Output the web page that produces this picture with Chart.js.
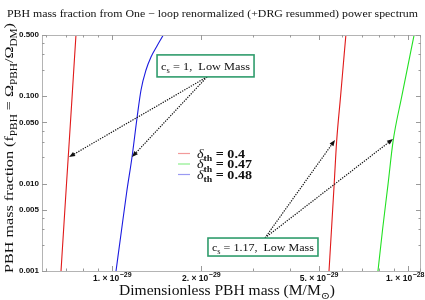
<!DOCTYPE html>
<html>
<head>
<meta charset="utf-8">
<script src="https://cdn.jsdelivr.net/npm/chart.js@4.4.0/dist/chart.umd.min.js"></script>
<style>
  html, body { margin: 0; padding: 0; background: #fff; }
  canvas { display: block; }
</style>
</head>
<body>
<canvas id="pbh" width="425" height="300"></canvas>
<script>
// values: PBH mass (M/Msun) vs f_PBH
const fracGrid = [0.001, 0.003, 0.01, 0.03, 0.1, 0.3, 0.6];
const massRedLow = [6.725e-30, 6.863e-30, 7.019e-30, 7.168e-30, 7.332e-30, 7.482e-30, 7.581e-30];
const massRedHigh = [5.409e-29, 5.515e-29, 5.632e-29, 5.738e-29, 5.919e-29, 6.087e-29, 6.197e-29];
const massGreen = [7.916e-29, 8.207e-29, 8.566e-29, 8.898e-29, 9.530e-29, 1.0172e-28, 1.0600e-28];
const massBlue = [1.0316e-29, 1.0758e-29, 1.1211e-29, 1.1684e-29, 1.2147e-29, 1.2531e-29, 1.3027e-29, 1.3543e-29, 1.4190e-29, 1.4903e-29, 1.5219e-29];
const fracBlue = [0.001, 0.002868, 0.008007, 0.02012, 0.0562, 0.1175, 0.1989, 0.2802, 0.3744, 0.5, 0.570];

const massMin = 5.80e-30, massMax = 1.1064e-28;
const fracMin = 0.001, fracMax = 0.5;
const massTicks = [1e-29, 2e-29, 5e-29, 1e-28];
const massTickMant = ['1. \u00d7 10', '2. \u00d7 10', '5. \u00d7 10', '1. \u00d7 10'];
const massTickExp = ['\u221229', '\u221229', '\u221229', '\u221228'];
const massMinor = [6e-30, 7e-30, 8e-30, 9e-30, 3e-29, 4e-29, 6e-29, 7e-29, 8e-29, 9e-29, 1.1e-28];
const fracTicks = [0.001, 0.005, 0.01, 0.05, 0.1, 0.5];
const fracMinor = [0.002, 0.003, 0.004, 0.02, 0.03, 0.04, 0.2, 0.3, 0.4];

const legendLabels = ['0.4', '0.47', '0.48'];
const legendColors = ['#f29a9a', '#8cee8c', '#9a9af2'];

// annotation anchors (data coordinates)
const noteLow = { text: '1,  Low Mass', at: [2.07e-29, 0.2216], from: [2.094e-29, 0.166], to: [[7.157e-30, 0.0201], [1.1684e-29, 0.0201]] };
const noteHigh = { text: '1.17,  Low Mass', at: [3.236e-29, 0.00188], from: [3.287e-29, 0.00239], to: [[5.667e-29, 0.0315], [8.898e-29, 0.0323]] };

const SERIF = '"Liberation Serif", "DejaVu Serif", serif';
const SANS = '"Liberation Sans", Arial, sans-serif';

function pts(xs, ys) {
	return xs.map((x, i) => ({ x: x, y: ys[i] }));
}

function setFont(ctx, p, size, family) {
	let s = p.sub ? size * 0.7 : size;
	ctx.font = (p.it ? 'italic ' : '') + (p.b ? 'bold ' : '') + s.toFixed(2) + 'px ' + family;
}

function richWidth(ctx, parts, size, family) {
	let w = 0;
	parts.forEach(p => { setFont(ctx, p, size, family); w += ctx.measureText(p.t).width; });
	return w;
}

// draws parts centred (or left aligned) at x, optionally squeezed to a width
function drawRich(ctx, parts, x, baseline, size, family, targetW, left) {
	let w = richWidth(ctx, parts, size, family);
	let k = targetW ? targetW / w : 1;
	ctx.save();
	ctx.translate(x, baseline);
	ctx.scale(k, 1);
	ctx.textAlign = 'left';
	ctx.textBaseline = 'alphabetic';
	let cx = left ? 0 : -w / 2;
	parts.forEach(p => {
		setFont(ctx, p, size, family);
		ctx.fillText(p.t, cx, p.sub ? size * 0.28 : 0);
		cx += ctx.measureText(p.t).width;
	});
	ctx.restore();
}

function arrow(ctx, x0, y0, x1, y1) {
	let a = Math.atan2(y1 - y0, x1 - x0);
	let L = 6, W = 2.4;
	ctx.save();
	ctx.strokeStyle = '#111';
	ctx.fillStyle = '#111';
	ctx.lineWidth = 1.2;
	ctx.setLineDash([1.3, 1.2]);
	ctx.beginPath();
	ctx.moveTo(x0, y0);
	ctx.lineTo(x1 - 3 * Math.cos(a), y1 - 3 * Math.sin(a));
	ctx.stroke();
	ctx.setLineDash([]);
	ctx.beginPath();
	ctx.moveTo(x1, y1);
	ctx.lineTo(x1 - L * Math.cos(a) + W * Math.sin(a), y1 - L * Math.sin(a) - W * Math.cos(a));
	ctx.lineTo(x1 - L * Math.cos(a) - W * Math.sin(a), y1 - L * Math.sin(a) + W * Math.cos(a));
	ctx.closePath();
	ctx.fill();
	ctx.restore();
}

const decor = {
	id: 'decor',
	afterDatasetsDraw(chart) {
		const ctx = chart.ctx;
		const a = chart.chartArea;
		const xs = chart.scales.x, ys = chart.scales.y;

		// frame with inward ticks
		ctx.save();
		ctx.strokeStyle = '#b4b4b4';
		ctx.lineWidth = 1;
		ctx.strokeRect(a.left + 0.5, a.top + 0.5, a.right - a.left - 1, a.bottom - a.top);
		ctx.strokeStyle = '#9a9a9a';
		ctx.beginPath();
		const tickX = (v, len) => {
			let p = Math.round(xs.getPixelForValue(v)) + 0.5;
			ctx.moveTo(p, a.bottom); ctx.lineTo(p, a.bottom - len);
			ctx.moveTo(p, a.top); ctx.lineTo(p, a.top + len);
		};
		const tickY = (v, len) => {
			let p = Math.round(ys.getPixelForValue(v)) + 0.5;
			ctx.moveTo(a.left, p); ctx.lineTo(a.left + len, p);
			ctx.moveTo(a.right, p); ctx.lineTo(a.right - len, p);
		};
		massTicks.forEach(v => tickX(v, 5));
		massMinor.forEach(v => tickX(v, 2.5));
		fracTicks.forEach(v => tickY(v, 5));
		fracMinor.forEach(v => tickY(v, 2.5));
		ctx.stroke();
		ctx.restore();

		// x tick labels with real superscripts, placed by the x scale
		ctx.save();
		ctx.fillStyle = '#111';
		ctx.textBaseline = 'alphabetic';
		ctx.textAlign = 'left';
		xs.ticks.forEach(t => {
			let i = massTicks.indexOf(t.value);
			if (i < 0) return;
			let px = xs.getPixelForValue(t.value);
			ctx.font = 'bold 8.5px ' + SANS;
			let w1 = ctx.measureText(massTickMant[i]).width;
			ctx.font = 'bold 7px ' + SANS;
			let w2 = ctx.measureText(massTickExp[i]).width;
			let x0 = Math.min(px - (w1 + w2) / 2, 424 - w1 - w2);
			ctx.font = 'bold 8.5px ' + SANS;
			ctx.fillText(massTickMant[i], x0, a.bottom + 10);
			ctx.font = 'bold 7px ' + SANS;
			ctx.fillText(massTickExp[i], x0 + w1 + 0.5, a.bottom + 5.5);
		});
		ctx.restore();

		// arrows and boxed notes
		[[noteLow, 97, 22], [noteHigh, 110, 18]].forEach(([n, bw, bh]) => {
			let fx = xs.getPixelForValue(n.from[0]), fy = ys.getPixelForValue(n.from[1]);
			n.to.forEach(t => arrow(ctx, fx, fy, xs.getPixelForValue(t[0]), ys.getPixelForValue(t[1])));
			let cx = xs.getPixelForValue(n.at[0]), cy = ys.getPixelForValue(n.at[1]);
			ctx.save();
			ctx.fillStyle = '#fff';
			ctx.fillRect(cx - bw / 2, cy - bh / 2, bw, bh);
			ctx.strokeStyle = '#2f9c6c';
			ctx.lineWidth = 1.6;
			ctx.strokeRect(cx - bw / 2, cy - bh / 2, bw, bh);
			ctx.fillStyle = '#111';
			drawRich(ctx, [{ t: 'c' }, { t: 's', sub: true }, { t: ' = ' + n.text }], cx, cy + 3.8, 11, SERIF, bw - 8);
			ctx.restore();
		});

		// legend
		ctx.save();
		const legParts = lab => [{ t: '\u03b4', it: true }, { t: 'th', sub: true, b: true }, { t: ' = ' + lab, b: true }];
		let kLeg = 55 / richWidth(ctx, legParts('0.48'), 12.5, SERIF);
		legendLabels.forEach((lab, i) => {
			let y = 153.5 + i * 10.5;
			ctx.strokeStyle = legendColors[i];
			ctx.lineWidth = 1.2;
			ctx.beginPath();
			ctx.moveTo(178, y); ctx.lineTo(190, y);
			ctx.stroke();
			ctx.fillStyle = '#111';
			let parts = legParts(lab);
			drawRich(ctx, parts, 197, y + 4, 12.5, SERIF, richWidth(ctx, parts, 12.5, SERIF) * kLeg, true);
		});
		ctx.restore();
	},
	afterDraw(chart) {
		const ctx = chart.ctx;
		ctx.save();
		ctx.fillStyle = '#111';
		drawRich(ctx, [{ t: 'PBH mass fraction from One \u2212 loop renormalized (+DRG resummed) power spectrum' }], 212.5, 17, 11, SERIF, 411);
		drawRich(ctx, [{ t: 'Dimensionless PBH mass (M/M' }, { t: '\u2299', sub: true }, { t: ')' }], 227, 295, 14.5, SERIF, 216);
		ctx.translate(13, 148);
		ctx.rotate(-Math.PI / 2);
		drawRich(ctx, [
			{ t: 'PBH mass fraction (f' }, { t: 'PBH', sub: true }, { t: ' = \u03a9' }, { t: 'PBH', sub: true },
			{ t: '/\u03a9' }, { t: 'DM', sub: true }, { t: ')' }
		], 0, 0, 13.5, SERIF, 250);
		ctx.restore();
	}
};

function line(data, color) {
	return {
		data: data,
		borderColor: color,
		borderWidth: 1.1,
		pointRadius: 0,
		cubicInterpolationMode: 'monotone',
		fill: false
	};
}

new Chart(document.getElementById('pbh'), {
	type: 'line',
	data: {
		datasets: [
			line(pts(massRedLow, fracGrid), '#e01a1a'),
			line(pts(massRedHigh, fracGrid), '#e01a1a'),
			line(pts(massGreen, fracGrid), '#22e022'),
			line(pts(massBlue, fracBlue), '#1a1ae0')
		]
	},
	options: {
		responsive: false,
		animation: false,
		devicePixelRatio: 1,
		layout: { padding: { top: 35, right: 4, left: 0, bottom: 0 } },
		plugins: { legend: { display: false }, tooltip: { enabled: false } },
		scales: {
			x: {
				type: 'logarithmic',
				min: massMin,
				max: massMax,
				afterBuildTicks: s => { s.ticks = massTicks.map(v => ({ value: v })); },
				afterFit: s => { s.height = 29; },
				grid: { display: false, drawTicks: false },
				border: { display: false },
				ticks: { display: false }
			},
			y: {
				type: 'logarithmic',
				min: fracMin,
				max: fracMax,
				afterBuildTicks: s => { s.ticks = fracTicks.map(v => ({ value: v })); },
				afterFit: s => { s.width = 42; },
				grid: { display: false, drawTicks: false },
				border: { display: false },
				ticks: {
					callback: v => Number(v).toFixed(3),
					autoSkip: false,
					padding: 3,
					color: '#111',
					font: { family: SANS, size: 8, weight: 'bold' }
				}
			}
		}
	},
	plugins: [decor]
});
</script>
</body>
</html>
